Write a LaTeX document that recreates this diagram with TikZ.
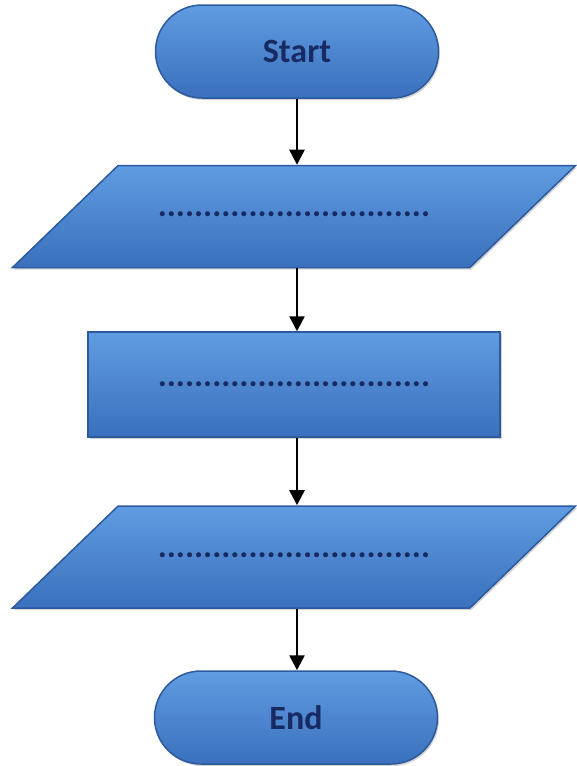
\documentclass[tikz,border=0pt]{standalone}
\usepackage{fontspec}
\setmainfont{Carlito}
\usepackage{tikz}
\usetikzlibrary{arrows.meta, shapes.geometric, shapes.misc, shadows}

\definecolor{flowtop}{RGB}{96,156,226}
\definecolor{flowbot}{RGB}{58,112,188}
\definecolor{flowline}{RGB}{44,90,158}
\definecolor{flowtext}{RGB}{24,42,98}

\begin{document}
\begin{tikzpicture}[x=1pt, y=1pt,
    box/.style={draw=flowline, line width=1.5pt, top color=flowtop, bottom color=flowbot,
      drop shadow={opacity=0.35, shadow xshift=1.5pt, shadow yshift=-2pt},
      text=flowtext, font=\fontsize{34}{40}\selectfont\bfseries, inner sep=0pt},
    term/.style={box, rounded rectangle, minimum width=283pt, minimum height=93pt},
    io/.style={box, trapezium, trapezium left angle=44, trapezium right angle=136,
      trapezium stretches body=true, minimum width=563pt, text height=51pt, text depth=51pt},
    proc/.style={box, rectangle, minimum width=412pt, minimum height=105pt},
    flow/.style={line width=2.5pt, -{Triangle[width=15pt,length=15pt]}}]
    \useasboundingbox (0,0) rectangle (577,-766);

    \node[term] (start) at (297,-51.5) {Start};
    \node[io]   (in)    at (294,-216.5) {..............................};
    \node[proc] (work)  at (294,-384.5) {..............................};
    \node[io]   (out)   at (294,-557) {..............................};
    \node[term] (stop)  at (296,-717.5) {End};

    % arrows down the column
    \draw[flow] (start.south -| 297,0) -- (in.north -| 297,0);
    \draw[flow] (in.south -| 297,0) -- (work.north -| 297,0);
    \draw[flow] (work.south -| 297,0) -- (out.north -| 297,0);
    \draw[flow] (out.south -| 297,0) -- (stop.north -| 297,0);
\end{tikzpicture}
\end{document}
